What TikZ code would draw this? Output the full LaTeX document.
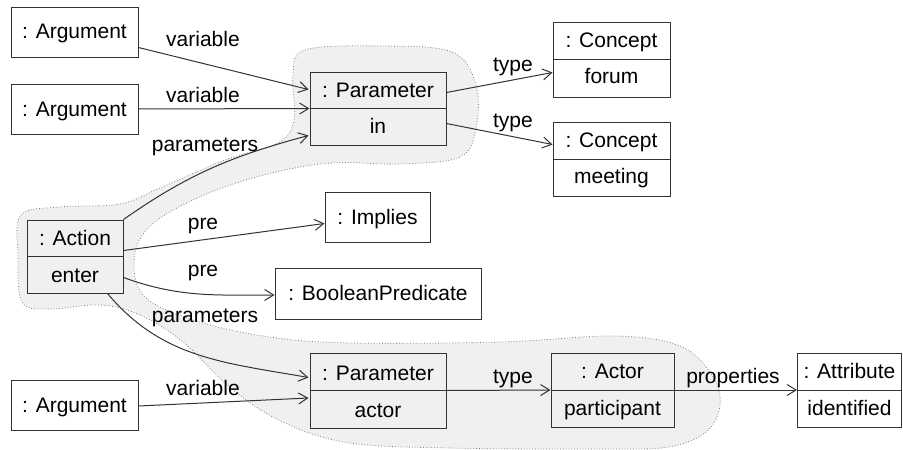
\documentclass[tikz,border=0pt]{standalone}
\usepackage{fontspec}
\setmainfont{Liberation Sans}
\usetikzlibrary{arrows.meta,calc}
\begin{document}
\begin{tikzpicture}[x=1pt,y=-1pt,
  box/.style={draw=black!80, line width=1pt, inner sep=0pt},
  txt/.style={anchor=base, inner sep=0pt, font=\fontsize{21}{25}\selectfont},
  conn/.style={draw=black!80, line width=1pt, -{Straight Barb[length=9pt,width=11pt]}},
  blob/.style={fill=black!6, draw=black!50, dotted, line width=0.8pt}]
\useasboundingbox (0,0) rectangle (903,450);

% highlighted region
\path[blob] plot[smooth cycle, tension=0.6] coordinates {
 (18,255) (21,215) (60,207) (120,204) (160,188) (225,160) (278,143) (294,120)
 (293,75) (305,50) (380,46) (452,52) (476,85) (476,128) (460,157) (400,164)
 (330,163) (260,176) (195,199) (148,228) (134,262) (146,298) (200,322) (270,337)
 (350,343) (500,342) (615,336) (680,346) (712,375) (720,405) (706,432) (668,447)
 (600,449) (450,448) (350,443) (285,423) (233,390) (183,342) (140,315) (100,305)
 (50,309) (22,302)};

% boxes
\node[box, minimum width=127, minimum height=50] (a1) at (74.5,32) {};
\node[box, minimum width=127, minimum height=50] (a2) at (74.5,109) {};
\node[box, minimum width=127, minimum height=50] (a3) at (74.5,405) {};
\node[box, minimum width=136, minimum height=73] (p1) at (378,108.5) {};
\node[box, minimum width=117, minimum height=75] (cn1) at (611.5,59.5) {};
\node[box, minimum width=117, minimum height=74] (cn2) at (611.5,159) {};
\node[box, minimum width=105, minimum height=50] (imp) at (377.5,217) {};
\node[box, minimum width=96, minimum height=73] (act) at (75,256.5) {};
\node[box, minimum width=206, minimum height=51] (bp) at (378,293.5) {};
\node[box, minimum width=136, minimum height=75] (p2) at (378,390.5) {};
\node[box, minimum width=123, minimum height=74] (actr) at (612.5,390) {};
\node[box, minimum width=104, minimum height=74] (attr) at (849.5,390) {};

% dividers
\foreach \b in {p1,cn1,cn2,act,p2,actr,attr}
  \draw[draw=black!80, line width=1pt] (\b.west) -- (\b.east);

% box texts
\node[txt] (a1t) at (74.5,38) {: Argument};
\node[txt] (a2t) at (74.5,116) {: Argument};
\node[txt] (a3t) at (74.5,412) {: Argument};
\node[txt] (p1t) at (378,97) {: Parameter};
\node[txt] (p1v) at (378,133) {in};
\node[txt] (cn1t) at (611.5,47) {: Concept};
\node[txt] (cn1v) at (611.5,83) {forum};
\node[txt] (cn2t) at (611.5,147) {: Concept};
\node[txt] (cn2v) at (611.5,183) {meeting};
\node[txt] (impt) at (377.5,224) {: Implies};
\node[txt] (actt) at (75,245) {: Action};
\node[txt] (actv) at (75,282) {enter};
\node[txt] (bpt) at (378,300) {: BooleanPredicate};
\node[txt] (p2t) at (378,380) {: Parameter};
\node[txt] (p2v) at (378,417) {actor};
\node[txt] (actrt) at (612.5,378) {: Actor};
\node[txt] (actrv) at (612.5,415) {participant};
\node[txt] (attrt) at (849.5,378) {: Attribute};
\node[txt] (attrv) at (849.5,415) {identified};

% connectors
\draw[conn] ($(a1.north east)+(0,41)$) -- ($(p1.north west)+(-1,18)$);
\draw[conn] (a2.east) -- (p1.west);
\draw[conn] (act.north east) to[out=35, in=195] ($(p1.south west)+(-1,-10)$);
\draw[conn] ($(p1.north east)+(0,21)$) -- ($(cn1.south west)+(0,-25)$);
\draw[conn] ($(p1.south east)+(0,-22)$) -- ($(cn2.north west)+(0,23)$);
\draw[conn] ($(act.north east)+(0,31)$) -- ($(imp.north west)+(0,32)$);
\draw[conn] ($(act.south east)+(0,-16)$) to[out=-20, in=180] ($(bp.west)+(0,1.5)$);
\draw[conn] ($(act.south east)+(-16,0)$) to[out=-50, in=170] ($(p2.north west)+(-1,25)$);
\draw[conn] ($(a3.east)+(0,1)$) -- ($(p2.west)+(-1,7.5)$);
\draw[conn] (p2.east) -- (actr.west);
\draw[conn] (actr.east) -- (attr.west);

% labels
\node[txt] (l1) at (203,46) {variable};
\node[txt] (l2) at (203,102) {variable};
\node[txt] (l3) at (205,151) {parameters};
\node[txt] (l4) at (513,71) {type};
\node[txt] (l5) at (513,127) {type};
\node[txt] (l6) at (203,229) {pre};
\node[txt] (l7) at (203,276) {pre};
\node[txt] (l8) at (205,322) {parameters};
\node[txt] (l9) at (203,395) {variable};
\node[txt] (l10) at (513,383) {type};
\node[txt] (l11) at (733,383) {properties};
\end{tikzpicture}
\end{document}
